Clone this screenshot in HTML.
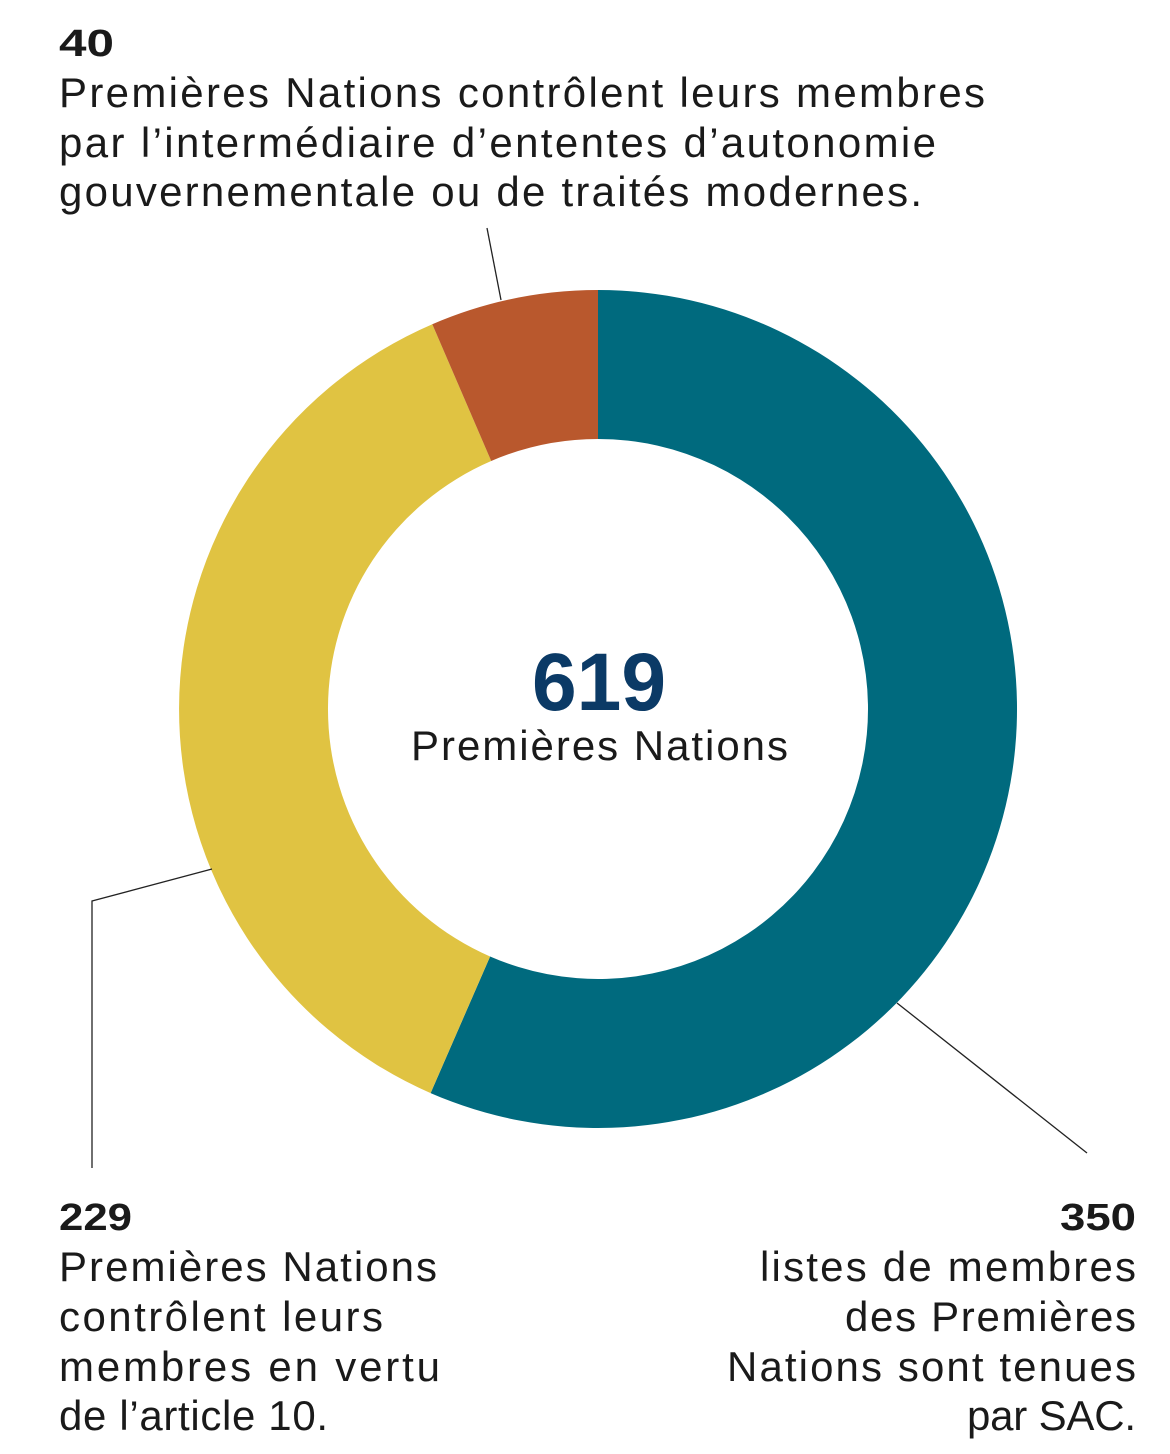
<!DOCTYPE html>
<html><head><meta charset="utf-8"><style>
html,body{margin:0;padding:0;background:#fff;}
svg{display:block;}
text{font-family:"Liberation Sans",sans-serif;fill:#1a1a1a;}
.n{font-weight:bold;font-size:38px;}
.t{font-size:42px;}
</style></head><body>
<svg width="1170" height="1454" viewBox="0 0 1170 1454">
<path d="M598,290 A419,419 0 1 1 430.6,1093.1 L490.1,956.5 A270,270 0 1 0 598,439 Z" fill="#006a7e"/>
<path d="M430.6,1093.1 A419,419 0 0 1 432.3,324.2 L491.2,461 A270,270 0 0 0 490.1,956.5 Z" fill="#e0c342"/>
<path d="M432.3,324.2 A419,419 0 0 1 598,290 L598,439 A270,270 0 0 0 491.2,461 Z" fill="#b9582d"/>
<g stroke="#222" stroke-width="1.3" fill="none">
<line x1="501" y1="300" x2="487" y2="228"/>
<polyline points="212,869 92,901 92,1168"/>
<line x1="897" y1="1003" x2="1087" y2="1153"/>
</g>
<text class="n" x="59" y="56" textLength="55" lengthAdjust="spacingAndGlyphs">40</text>
<text class="t" x="59" y="107" textLength="926" lengthAdjust="spacing">Premières Nations contrôlent leurs membres</text>
<text class="t" x="59" y="157" textLength="877" lengthAdjust="spacing">par l’intermédiaire d’ententes d’autonomie</text>
<text class="t" x="59" y="206" textLength="863" lengthAdjust="spacing">gouvernementale ou de traités modernes.</text>
<text x="532" y="710" textLength="134" lengthAdjust="spacingAndGlyphs" style="font-weight:bold;font-size:82px;fill:#0b3a66">619</text>
<text class="t" x="411" y="760" textLength="377" lengthAdjust="spacing">Premières Nations</text>
<text class="n" x="59" y="1230" textLength="73" lengthAdjust="spacingAndGlyphs">229</text>
<text class="t" x="59" y="1281" textLength="378" lengthAdjust="spacing">Premières Nations</text>
<text class="t" x="59" y="1331" textLength="324" lengthAdjust="spacing">contrôlent leurs</text>
<text class="t" x="59" y="1381" textLength="381" lengthAdjust="spacing">membres en vertu</text>
<text class="t" x="59" y="1430" textLength="269" lengthAdjust="spacing">de l’article 10.</text>
<text class="n" x="1060" y="1230" textLength="76" lengthAdjust="spacingAndGlyphs">350</text>
<text class="t" x="760" y="1281" textLength="376" lengthAdjust="spacing">listes de membres</text>
<text class="t" x="845" y="1331" textLength="291" lengthAdjust="spacing">des Premières</text>
<text class="t" x="727" y="1381" textLength="409" lengthAdjust="spacing">Nations sont tenues</text>
<text class="t" x="967" y="1430" textLength="169" lengthAdjust="spacing">par SAC.</text>
</svg>
</body></html>
